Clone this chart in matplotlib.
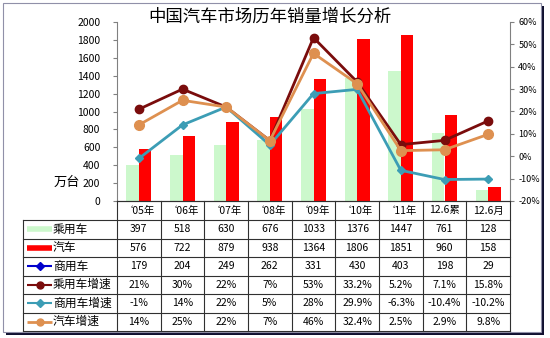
import matplotlib
matplotlib.use("Agg")
import matplotlib.pyplot as plt
from matplotlib.patches import Rectangle
import numpy as np

plt.rcParams['font.family'] = ['Noto Sans CJK SC', 'DejaVu Sans']

categories = ["‘05年", "‘06年", "‘07年", "‘08年", "‘09年", "‘10年", "‘11年", "12.6累", "12.6月"]
passenger = [397, 518, 630, 676, 1033, 1376, 1447, 761, 128]
total = [576, 722, 879, 938, 1364, 1806, 1851, 960, 158]
commercial = [179, 204, 249, 262, 331, 430, 403, 198, 29]
passenger_growth = [21, 30, 22, 7, 53, 33.2, 5.2, 7.1, 15.8]
commercial_growth = [-1, 14, 22, 5, 28, 29.9, -6.3, -10.4, -10.2]
total_growth = [14, 25, 22, 7, 46, 32.4, 2.5, 2.9, 9.8]

passenger_growth_txt = ["21%", "30%", "22%", "7%", "53%", "33.2%", "5.2%", "7.1%", "15.8%"]
commercial_growth_txt = ["-1%", "14%", "22%", "5%", "28%", "29.9%", "-6.3%", "-10.4%", "-10.2%"]
total_growth_txt = ["14%", "25%", "22%", "7%", "46%", "32.4%", "2.5%", "2.9%", "9.8%"]

C_PASS = "#CCF8CC"
C_TOTAL = "#FF0000"
C_COMM = "#0000CC"
C_PG = "#7A0C0C"
C_CG = "#3C9DB5"
C_TG = "#DE9050"

W, H = 550, 338
fig = plt.figure(figsize=(W / 100, H / 100), dpi=100)
fig.patch.set_facecolor("white")

def fx(px):
    return px / W

def fy(py):
    return 1 - py / H

X0, X1, Y0, Y1 = 117, 510, 22, 201
ax = fig.add_axes([fx(X0), fy(Y1), fx(X1) - fx(X0), fy(Y0) - fy(Y1)])
n = len(categories)
x = np.arange(n)
bw = 0.285
ax.bar(x - bw / 2, passenger, bw, color=C_PASS, zorder=1)
ax.bar(x + bw / 2, total, bw, color=C_TOTAL, zorder=1)
ax.set_xlim(-0.5, n - 0.5)
ax.set_ylim(0, 2000)
ax.set_yticks(range(0, 2001, 200))
ax.set_xticks([])
ax.tick_params(axis='y', direction='out', length=3, width=0.8, color="#808080",
               labelsize=7.5, pad=9)
for s in ["top", "right"]:
    ax.spines[s].set_visible(False)
ax.spines["left"].set_color("#808080")
ax.spines["bottom"].set_color("#404040")
ax.patch.set_alpha(0)

ax2 = ax.twinx()
ax2.set_ylim(-20, 60)
ax2.set_yticks(range(-20, 61, 10))
ax2.set_yticklabels([f"{v}%" for v in range(-20, 61, 10)])
ax2.tick_params(axis='y', direction='out', length=3, width=0.8, color="#808080",
                labelsize=6.5, pad=3)
for s in ["top", "left", "bottom"]:
    ax2.spines[s].set_visible(False)
ax2.spines["right"].set_color("#808080")
ax2.plot(x, passenger_growth, color=C_PG, lw=2.0, marker="o", ms=6, zorder=3)
ax2.plot(x, commercial_growth, color=C_CG, lw=2.0, marker="D", ms=4.5, zorder=3)
ax2.plot(x, total_growth, color=C_TG, lw=2.0, marker="o", ms=7, zorder=3)

fig.text(fx(270), fy(17), "中国汽车市场历年销量增长分析", ha="center", va="center", fontsize=12.5)
fig.text(fx(67), fy(182), "万台", ha="center", va="center", fontsize=9.5)

# data table below the plot
t = fig.add_axes([0, 0, 1, 1])
t.set_xlim(0, W)
t.set_ylim(H, 0)
t.axis("off")
t.patch.set_alpha(0)

colw = (X1 - X0) / n
TL = 23
rows_y = [201, 220, 238.5, 257, 275.5, 294, 312.5, 331]
gc = "#303030"
for i in range(n + 1):
    t.plot([X0 + i * colw] * 2, [rows_y[0], rows_y[-1]], color=gc, lw=0.8)
t.plot([TL, TL], [rows_y[1], rows_y[-1]], color=gc, lw=0.8)
t.plot([X0, X1], [rows_y[0], rows_y[0]], color=gc, lw=0.8)
for yy in rows_y[1:]:
    t.plot([TL, X1], [yy, yy], color=gc, lw=0.8)
for i, c in enumerate(categories):
    t.text(X0 + (i + 0.5) * colw, (rows_y[0] + rows_y[1]) / 2, c, ha="center",
           va="center", fontsize=7.5)

row_names = ["乘用车", "汽车", "商用车", "乘用车增速", "商用车增速", "汽车增速"]
row_vals = [[str(v) for v in passenger], [str(v) for v in total], [str(v) for v in commercial],
            passenger_growth_txt, commercial_growth_txt, total_growth_txt]
keys = [(C_PASS, None, 4), (C_TOTAL, None, 4), (C_COMM, "D", 1.5),
        (C_PG, "o", 1.5), (C_CG, "D", 1.5), (C_TG, "o", 2)]
for r, (name, vals, key) in enumerate(zip(row_names, row_vals, keys)):
    yc = (rows_y[r + 1] + rows_y[r + 2]) / 2
    col, mk, lw = key
    t.plot([27, 52], [yc, yc], color=col, lw=lw, solid_capstyle="butt")
    if mk:
        t.plot([39.5], [yc], marker=mk, color=col, ms=4 if mk == "D" else 5)
    t.text(53, yc, name, ha="left", va="center", fontsize=8.5)
    for i, v in enumerate(vals):
        t.text(X0 + (i + 0.5) * colw, yc, v, ha="center", va="center", fontsize=7.5)

# outer frame with shadow
t.add_patch(Rectangle((541, 6), 3, 329, color="#101030", lw=0))
t.add_patch(Rectangle((6, 332), 538, 3, color="#101030", lw=0))
t.add_patch(Rectangle((3, 3), 538, 329, fill=False, ec="#9090A8", lw=0.8))

fig.savefig("out.png", dpi=100)
